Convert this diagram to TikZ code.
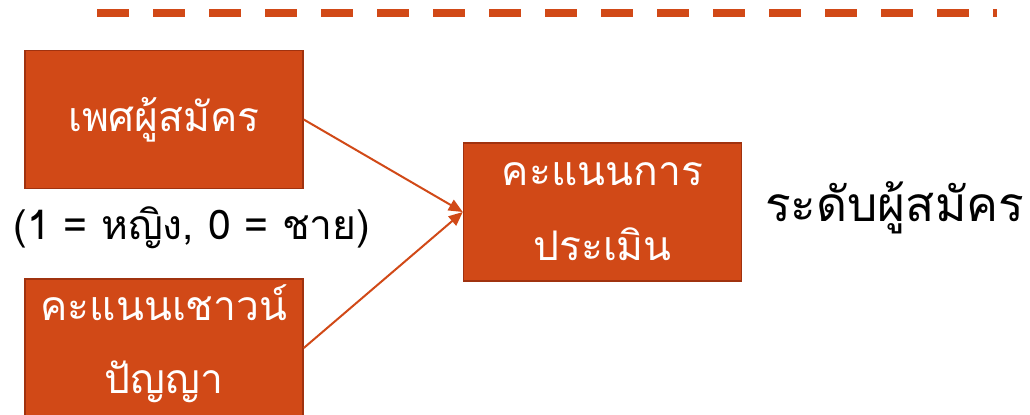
\documentclass[tikz,border=0pt]{standalone}
\usepackage{fontspec}
\newfontfamily\thai[Script=Thai]{Loma}
\usetikzlibrary{arrows.meta}
\definecolor{boxfill}{RGB}{209,73,23}
\definecolor{boxedge}{RGB}{160,50,15}
\tikzset{
  vbox/.style={draw=boxedge, line width=1.5bp, fill=boxfill, minimum width=278bp, minimum height=138bp,
    inner sep=0pt, align=center, text=white, font=\thai\fontsize{41}{75}\selectfont},
  conn/.style={draw=boxfill, line width=2bp, -{Triangle[length=14bp,width=12bp]}},
  plain/.style={inner sep=0pt, font=\thai\fontsize{41}{48}\selectfont}
}
\begin{document}
\begin{tikzpicture}[x=1bp,y=-1bp]
\useasboundingbox (0,0) rectangle (1030,414);
\coordinate (d1) at (97,13);
\coordinate (d2) at (997,13);
\draw[boxfill, line width=8bp, dash pattern=on 32bp off 24bp] (d1) -- (d2);
\node[vbox] (sex) at (164,119.5) {เพศผู้สมัคร};
\node[vbox] (iq) at (164,348) {};
\node[text=white, align=center, inner sep=0pt, font=\thai\fontsize{41}{73}\selectfont] (iqtext) at (164,344) {คะแนนเชาวน์\\ปัญญา};
\node[vbox] (score) at (602.5,212) {คะแนนการ\\ประเมิน};
\node[plain] (code) at (192,228) {(1 = หญิง, 0 = ชาย)};
\node[plain, anchor=west, font=\thai\fontsize{48}{56}\selectfont] (level) at (765,208) {ระดับผู้สมัคร};
\draw[conn] (sex.east) -- (score.west);
\draw[conn] (iq.east) -- (score.west);
\end{tikzpicture}
\end{document}
